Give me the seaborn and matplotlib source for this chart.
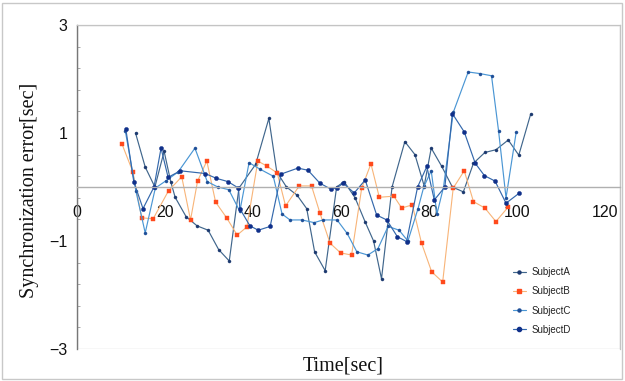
import numpy as np
import pandas as pd
import matplotlib
matplotlib.use("Agg")
import matplotlib.pyplot as plt
import seaborn as sns
from matplotlib.patches import Rectangle
from matplotlib.ticker import FixedLocator
from matplotlib.lines import Line2D

# ---------------- data ----------------
subject_a_x = [13.3, 15.5, 17.7, 19.8, 21.3, 22.3, 24.8, 27.3, 29.8, 32.2, 34.6, 36.8, 40.6, 43.6,
               45.4, 47.6, 50.0, 52.2, 54.0, 56.4, 59.0, 60.7, 63.2, 65.5, 67.4, 69.2, 71.6, 74.5,
               76.8, 78.9, 80.5, 82.9, 85.3, 87.8, 90.1, 92.7, 95.2, 98.0, 100.4, 103.1]
subject_a_y = [1.00, 0.37, 0.00, 0.66, 0.10, -0.19, -0.55, -0.72, -0.80, -1.16, -1.37, -0.02, 0.42, 1.27,
               0.28, 0.00, -0.15, -0.40, -1.20, -1.55, 0.00, 0.10, -0.20, -0.65, -1.00, -1.70, 0.00, 0.84,
               0.60, 0.02, 0.72, 0.38, 0.00, -0.09, 0.44, 0.64, 0.69, 0.87, 0.59, 1.35]

subject_b_x = [10.2, 12.7, 14.7, 17.3, 20.8, 23.8, 25.8, 27.4, 29.5, 31.5, 34.0, 36.4, 38.6, 41.1,
               43.1, 45.5, 47.4, 50.5, 53.3, 55.2, 57.5, 59.9, 62.4, 64.7, 66.8, 68.7, 72.0, 73.8,
               76.2, 78.3, 80.6, 83.1, 85.5, 88.0, 90.1, 92.7, 95.2, 98.0]
subject_b_y = [0.80, 0.28, -0.57, -0.59, -0.07, 0.19, -0.61, 0.11, 0.48, -0.28, -0.57, -0.89, -0.74, 0.48,
               0.39, 0.26, -0.35, 0.02, 0.02, -0.48, -1.04, -1.22, -1.26, -0.02, 0.43, -0.19, -0.17, -0.39,
               -0.33, -1.04, -1.57, -1.76, -0.02, 0.30, -0.27, -0.39, -0.64, -0.37]

subject_c_x = [11.0, 13.4, 15.5, 17.8, 20.3, 23.0, 26.8, 29.6, 32.0, 34.5, 37.0, 39.1, 41.6, 44.6,
               46.6, 48.4, 51.1, 53.9, 55.9, 59.1, 61.4, 63.6, 66.1, 68.4, 70.7, 73.2, 75.2, 77.5,
               78.8, 80.5, 81.8, 83.3, 85.5, 88.9, 91.6, 94.2, 95.8, 97.5, 99.8]
subject_c_y = [1.03, -0.08, -0.85, -0.02, 0.12, 0.28, 0.72, 0.10, 0.00, -0.05, -0.45, 0.45, 0.33, 0.20,
               -0.50, -0.61, -0.61, -0.66, -0.61, -0.61, -0.86, -1.20, -1.26, -1.14, -0.73, -0.80, -1.00, -0.40,
               0.00, 0.30, -0.50, 0.00, 1.38, 2.13, 2.10, 2.06, 1.04, -0.20, 1.01]

subject_d_x = [11.1, 12.9, 15.0, 17.5, 19.1, 20.7, 23.5, 29.1, 31.7, 34.3, 36.7, 37.0, 39.3, 41.2,
               43.9, 46.4, 50.2, 52.5, 55.2, 57.7, 59.0, 60.5, 63.0, 65.5, 68.1, 70.4, 72.8, 74.9,
               77.4, 79.5, 81.2, 83.6, 85.3, 88.0, 90.5, 92.6, 95.0, 97.5, 100.4]
subject_d_y = [1.07, 0.10, -0.40, 0.00, 0.72, 0.18, 0.30, 0.25, 0.16, 0.10, -0.02, -0.40, -0.72, -0.80,
               -0.73, 0.24, 0.35, 0.31, 0.07, -0.04, -0.02, 0.07, -0.11, 0.13, -0.52, -0.61, -0.92, -1.01,
               0.00, 0.38, -0.24, 0.00, 1.36, 1.02, 0.44, 0.21, 0.11, -0.30, -0.12]

series_names = ["SubjectA", "SubjectB", "SubjectC", "SubjectD"]
x_ticks = [0, 20, 40, 60, 80, 100, 120]
y_ticks = [-3, -1, 1, 3]

# ---------------- style ----------------
sns.set_theme(style="white")
plt.rcParams["font.family"] = ["Liberation Sans", "DejaVu Sans"]

styles = {
    "SubjectA": dict(line="#40668c", mk="#1d3a70", marker="o", ms=2.2, lw=0.85),
    "SubjectB": dict(line="#f8b478", mk="#ff4a1c", marker="s", ms=2.8, lw=0.8),
    "SubjectC": dict(line="#4a96d4", mk="#1f4f98", marker="o", ms=2.2, lw=0.85),
    "SubjectD": dict(line="#3468ac", mk="#10308a", marker="o", ms=3.0, lw=0.85),
}
data = {
    "SubjectA": (subject_a_x, subject_a_y),
    "SubjectB": (subject_b_x, subject_b_y),
    "SubjectC": (subject_c_x, subject_c_y),
    "SubjectD": (subject_d_x, subject_d_y),
}

W, H = 625, 381
fig = plt.figure(figsize=(W / 100, H / 100), dpi=100)
fig.patch.set_facecolor("white")
fig.patches.append(Rectangle((2 / W, 2 / H), 1 - 5 / W, 1 - 5 / H, transform=fig.transFigure,
                             fill=False, edgecolor="#c8c8c8", linewidth=1.0))

ax = fig.add_axes([77 / W, 1 - 349 / H, 543 / W, 324 / H])
ax.set_facecolor("white")

handles = []
for name in series_names:
    xs, ys = data[name]
    df = pd.DataFrame({"x": xs, "y": ys})
    st = styles[name]
    sns.lineplot(data=df, x="x", y="y", ax=ax, sort=False, estimator=None,
                 color=st["line"], linewidth=st["lw"], marker=st["marker"], markersize=st["ms"],
                 markerfacecolor=st["mk"], markeredgecolor=st["mk"], markeredgewidth=0.3)
    handles.append(Line2D([0], [0], color=st["line"], linewidth=st["lw"], marker=st["marker"],
                          markersize=st["ms"], markerfacecolor=st["mk"], markeredgecolor=st["mk"]))

ax.set_xlim(0, 123.4)
ax.set_ylim(-3, 3)
ax.set_xlabel("")
ax.set_ylabel("")

# axes frame
for s in ["top", "right"]:
    ax.spines[s].set_color("#c4c4c4")
    ax.spines[s].set_linewidth(0.9)
ax.spines["left"].set_color("#777777")
ax.spines["left"].set_linewidth(1.0)
ax.spines["bottom"].set_position(("data", 0))
ax.spines["bottom"].set_color("#b0b0b0")
ax.spines["bottom"].set_linewidth(1.0)
ax.add_patch(Rectangle((0, 0), 1, 1, transform=ax.transAxes, fill=False,
                       edgecolor="#c4c4c4", linewidth=0.9, zorder=0))

ax.set_xticks(x_ticks)
ax.set_xticklabels([str(t) for t in x_ticks])
ax.set_yticks(y_ticks)
ax.set_yticklabels([str(t) if t >= 0 else "\u2212" + str(-t) for t in y_ticks])
ax.yaxis.set_minor_locator(FixedLocator(list(np.arange(-3, 3.01, 0.4))))
ax.tick_params(axis="x", direction="in", length=4, width=0.8, color="#999999", pad=13,
               labelsize=11.5, labelcolor="#111111")
ax.tick_params(axis="y", which="major", direction="in", length=4, width=0.8, color="#777777",
               pad=7, labelsize=11.5, labelcolor="#111111")
ax.tick_params(axis="y", which="minor", direction="in", length=2.5, width=0.6, color="#999999", left=True)

fig.text(343 / W, 1 - 366 / H, "Time[sec]", ha="center", va="center",
         family=["Liberation Serif", "DejaVu Serif"], fontsize=14.5, color="#111111")
fig.text(30 / W, 1 - 190 / H, "Synchronization error[sec]", ha="center", va="center", rotation=90,
         family=["Liberation Serif", "DejaVu Serif"], fontsize=14.5, color="#111111")

leg = ax.legend(handles, series_names, loc="upper left", bbox_to_anchor=(0.795, 0.265),
                frameon=False, fontsize=7, handlelength=1.4, handletextpad=0.6, labelspacing=0.95,
                borderaxespad=0)
for t in leg.get_texts():
    t.set_color("#222222")

fig.savefig("out.png", dpi=100, facecolor="white")
